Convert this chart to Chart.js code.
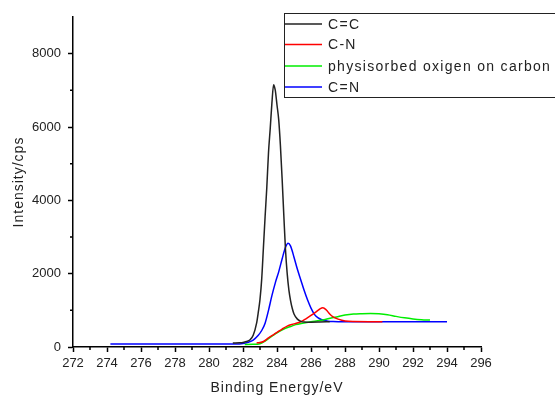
<!DOCTYPE html>
<html>
<head>
<meta charset="utf-8">
<script src="https://cdn.jsdelivr.net/npm/chart.js@4.4.1/dist/chart.umd.min.js"></script>
<style>
  html, body { margin: 0; padding: 0; background: #fff; }
  canvas { display: block; }
</style>
</head>
<body>
<canvas id="chart" width="555" height="399"></canvas>
<script>
// series (binding energy in eV, intensity in cps)
const ccX = [281.4, 281.8, 282.0, 282.2, 282.4, 282.6, 282.8, 282.9, 283.0, 283.1, 283.2, 283.3, 283.4, 283.5, 283.6, 283.7, 283.8, 283.85, 283.9, 284.0, 284.1, 284.2, 284.3, 284.4, 284.5, 284.6, 284.7, 284.8, 284.9, 285.0, 285.2, 285.4, 285.6, 286.0, 286.5, 287.1];
const ccY = [110, 115, 125, 150, 190, 320, 650, 950, 1300, 1850, 2700, 3550, 4350, 5300, 5950, 6650, 7150, 7100, 7000, 6600, 6200, 5500, 4600, 3600, 2650, 2000, 1550, 1260, 1050, 900, 760, 700, 680, 675, 680, 690];

const cnX = [282.8, 283.0, 283.2, 283.5, 283.8, 284.0, 284.3, 284.6, 285.0, 285.4, 285.7, 286.0, 286.3, 286.5, 286.7, 286.9, 287.1, 287.3, 287.6, 288.0, 288.5, 290.2];
const cnY = [110, 120, 150, 250, 340, 400, 490, 570, 630, 690, 770, 860, 960, 1030, 1070, 1010, 900, 820, 760, 710, 695, 690];

const oxX = [282.1, 282.6, 283.0, 283.3, 283.6, 283.9, 284.2, 284.5, 284.8, 285.1, 285.5, 286.0, 286.5, 287.0, 287.5, 288.0, 288.5, 289.0, 289.5, 290.0, 290.5, 291.0, 291.5, 292.0, 292.5, 293.0];
const oxY = [70, 72, 90, 160, 260, 360, 440, 510, 560, 610, 650, 690, 720, 770, 820, 870, 900, 910, 915, 905, 880, 835, 795, 765, 745, 735];

const cnDblX = [274.2, 281.0, 281.8, 282.0, 282.3, 282.6, 282.9, 283.1, 283.3, 283.5, 283.7, 283.9, 284.1, 284.3, 284.5, 284.65, 284.8, 285.0, 285.2, 285.4, 285.6, 285.8, 286.0, 286.2, 286.4, 286.6, 286.8, 287.0, 287.3, 288.0, 294.0];
const cnDblY = [80, 80, 85, 95, 130, 190, 320, 450, 650, 1000, 1400, 1750, 2050, 2400, 2720, 2830, 2750, 2450, 2120, 1830, 1540, 1280, 1060, 890, 800, 750, 720, 705, 695, 690, 690];

const labels = ["C=C", "C-N", "physisorbed oxigen on carbon", "C=N"];
const colors = ["#222222", "#ff0000", "#00ee00", "#0000ff"];
const xTicks = [272, 274, 276, 278, 280, 282, 284, 286, 288, 290, 292, 294, 296];
const yTicks = [0, 2000, 4000, 6000, 8000];

const pts = (xs, ys) => xs.map((x, i) => ({ x, y: ys[i] }));
const series = [pts(ccX, ccY), pts(cnX, cnY), pts(oxX, oxY), pts(cnDblX, cnDblY)];

const FONT = "'Liberation Sans', Arial, sans-serif";

// minor ticks, axis titles and the boxed legend
const extras = {
    id: "extras",
    afterDraw(chart) {
        const { ctx, chartArea, scales } = chart;
        const x = scales.x, y = scales.y;
        ctx.save();
        ctx.strokeStyle = "#000";
        ctx.lineWidth = 1.5;
        ctx.beginPath();
        for (let v = 273; v < 296; v += 2) {
            const px = x.getPixelForValue(v);
            ctx.moveTo(px, chartArea.bottom);
            ctx.lineTo(px, chartArea.bottom + 3);
        }
        for (let v = 1000; v < 9000; v += 2000) {
            const py = y.getPixelForValue(v);
            ctx.moveTo(chartArea.left - 3, py);
            ctx.lineTo(chartArea.left, py);
        }
        ctx.stroke();

        ctx.fillStyle = "#222";
        ctx.font = "14px " + FONT;
        ctx.letterSpacing = "1px";
        ctx.textAlign = "center";
        ctx.textBaseline = "middle";
        ctx.fillText("Binding Energy/eV", (chartArea.left + chartArea.right) / 2, 388);
        ctx.save();
        ctx.translate(19, (chartArea.top + chartArea.bottom) / 2);
        ctx.rotate(-Math.PI / 2);
        ctx.fillText("Intensity/cps", 0, 0);
        ctx.restore();

        // legend box
        ctx.fillStyle = "#fff";
        ctx.fillRect(284.5, 13.5, 300, 84);
        ctx.strokeStyle = "#222";
        ctx.lineWidth = 1;
        ctx.strokeRect(284.5, 13.5, 300, 84);
        ctx.textAlign = "left";
        ctx.letterSpacing = "1.3px";
        const rows = [24, 44.5, 66, 87];
        labels.forEach((lab, i) => {
            ctx.strokeStyle = colors[i];
            ctx.lineWidth = 1.5;
            ctx.beginPath();
            ctx.moveTo(285, rows[i]);
            ctx.lineTo(322, rows[i]);
            ctx.stroke();
            ctx.fillStyle = "#222";
            ctx.fillText(lab, 328, rows[i] + 1);
        });
        ctx.restore();
    }
};

const axisStyle = {
    grid: { drawOnChartArea: false, drawTicks: true, tickLength: 5, tickWidth: 1.5, tickColor: "#000" },
    border: { color: "#000", width: 1.5 }
};

new Chart(document.getElementById("chart"), {
    type: "line",
    data: {
        datasets: series.map((data, i) => ({
            label: labels[i],
            data,
            borderColor: colors[i],
            borderWidth: 1.5,
            pointRadius: 0,
            fill: false,
            cubicInterpolationMode: "monotone"
        }))
    },
    options: {
        responsive: false,
        animation: false,
        devicePixelRatio: 1,
        layout: { padding: { top: 17, right: 74, left: 0, bottom: 0 } },
        plugins: { legend: { display: false }, tooltip: { enabled: false } },
        scales: {
            x: {
                type: "linear",
                min: 272,
                max: 296,
                afterBuildTicks: (s) => { s.ticks = xTicks.map((v) => ({ value: v })); },
                afterFit: (s) => { s.height = 52; },
                ticks: { color: "#222", font: { family: FONT, size: 13 }, padding: 4, maxRotation: 0, autoSkip: false,
                    callback: (v) => String(v) },
                ...axisStyle
            },
            y: {
                min: 0,
                max: 9000,
                afterBuildTicks: (s) => { s.ticks = yTicks.map((v) => ({ value: v })); },
                afterFit: (s) => { s.width = 73; },
                ticks: { color: "#222", font: { family: FONT, size: 13 }, padding: 7,
                    callback: (v) => String(v) },
                ...axisStyle
            }
        }
    },
    plugins: [extras]
});
</script>
</body>
</html>
